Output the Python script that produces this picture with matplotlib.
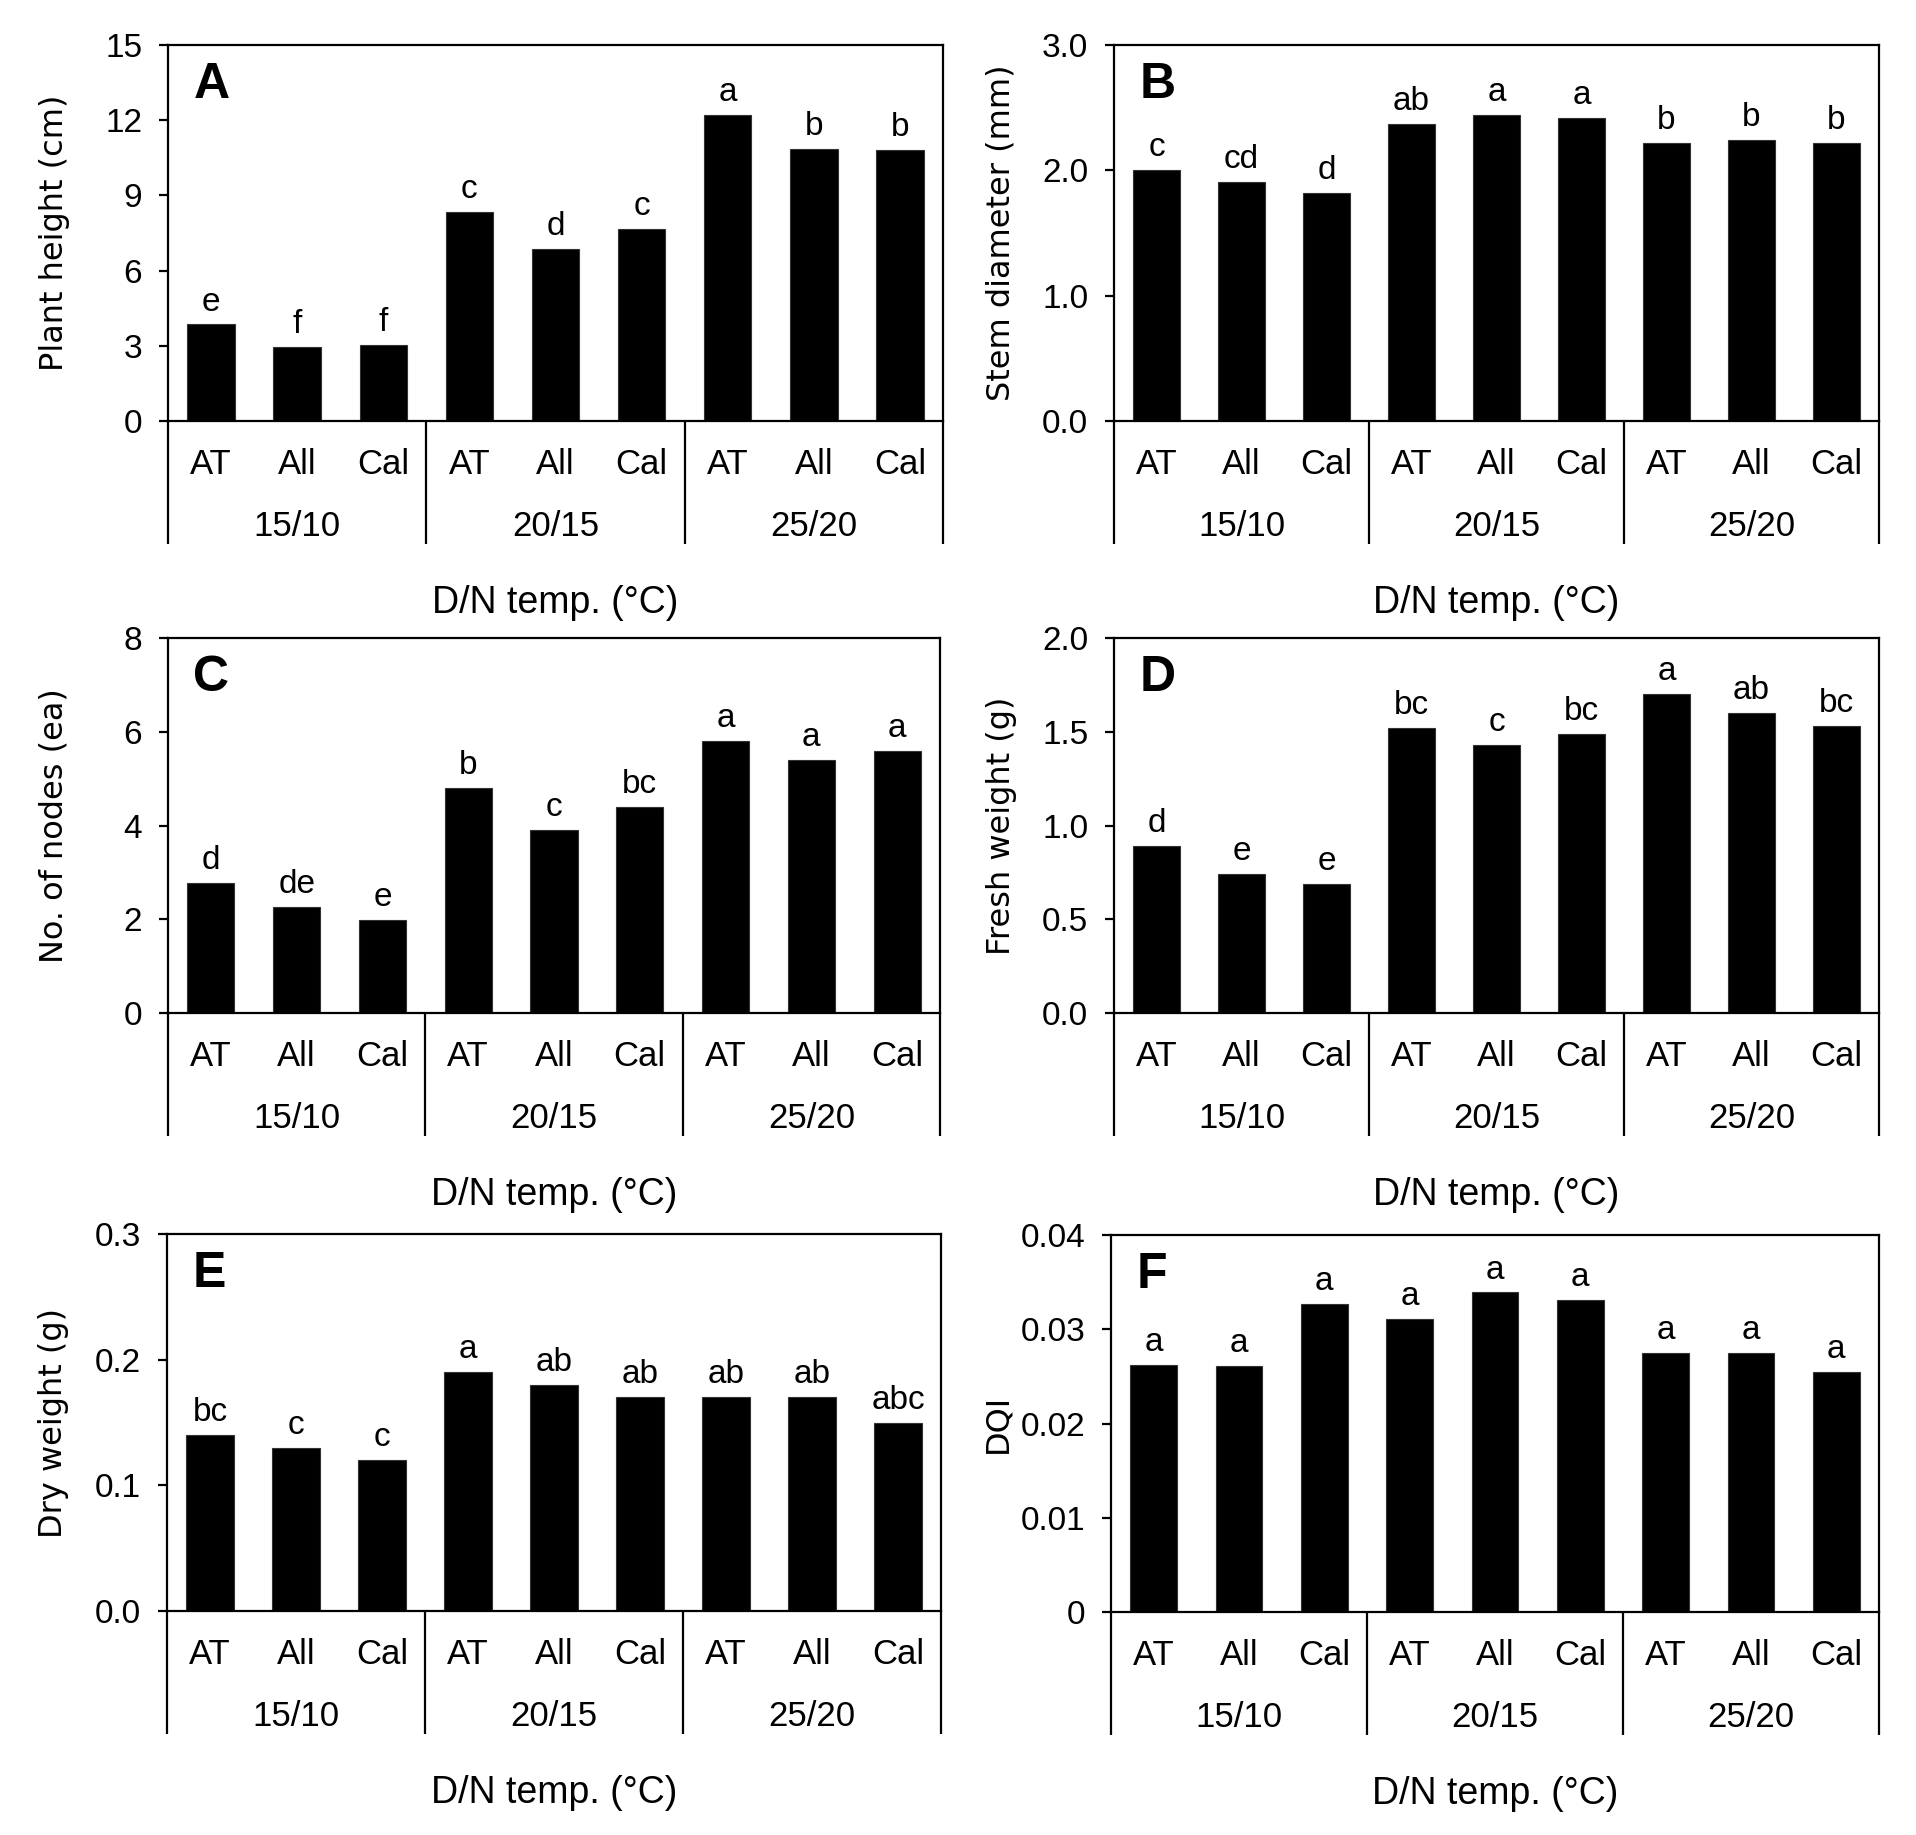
import matplotlib
matplotlib.use("Agg")
import matplotlib.pyplot as plt
import matplotlib.transforms as mtransforms
import numpy as np

categories = ['AT', 'All', 'Cal']
groups = ['15/10', '20/15', '25/20']

height = [3.85, 2.95, 3.05, 8.35, 6.85, 7.65, 12.2, 10.85, 10.8]
height_letters = ['e', 'f', 'f', 'c', 'd', 'c', 'a', 'b', 'b']
stem = [2.0, 1.91, 1.82, 2.37, 2.44, 2.42, 2.22, 2.24, 2.22]
stem_letters = ['c', 'cd', 'd', 'ab', 'a', 'a', 'b', 'b', 'b']
nodes = [2.78, 2.27, 1.98, 4.8, 3.9, 4.4, 5.8, 5.4, 5.6]
nodes_letters = ['d', 'de', 'e', 'b', 'c', 'bc', 'a', 'a', 'a']
fresh = [0.89, 0.74, 0.69, 1.52, 1.43, 1.49, 1.70, 1.60, 1.53]
fresh_letters = ['d', 'e', 'e', 'bc', 'c', 'bc', 'a', 'ab', 'bc']
dry = [0.14, 0.13, 0.12, 0.19, 0.18, 0.17, 0.17, 0.17, 0.15]
dry_letters = ['bc', 'c', 'c', 'a', 'ab', 'ab', 'ab', 'ab', 'abc']
dqi = [0.0262, 0.0261, 0.0327, 0.0311, 0.0339, 0.0331, 0.0275, 0.0275, 0.0255]
dqi_letters = ['a', 'a', 'a', 'a', 'a', 'a', 'a', 'a', 'a']

yticks_A = [0, 3, 6, 9, 12, 15]
yticks_B = [0.0, 1.0, 2.0, 3.0]
yticks_C = [0, 2, 4, 6, 8]
yticks_D = [0.0, 0.5, 1.0, 1.5, 2.0]
yticks_E = [0.0, 0.1, 0.2, 0.3]
yticks_F = [0, 0.01, 0.02, 0.03, 0.04]
ytick_labels_F = ['0', '0.01', '0.02', '0.03', '0.04']

NARROW = ['Liberation Sans', 'DejaVu Sans']
WIDE = ['DejaVu Sans']

W, H = 1916, 1835
fig = plt.figure(figsize=(W / 100, H / 100), dpi=100)

def frac(x0, x1, top, zero):
    return [x0 / W, 1 - zero / H, (x1 - x0) / W, (zero - top) / H]

panels = [
    ('A', height, height_letters, yticks_A, None, 'Plant height (cm)', frac(168, 943, 45, 421), '{:g}'),
    ('B', stem, stem_letters, yticks_B, None, 'Stem diameter (mm)', frac(1114, 1879, 45, 421), '{:.1f}'),
    ('C', nodes, nodes_letters, yticks_C, None, 'No. of nodes (ea)', frac(168, 940, 638, 1013), '{:g}'),
    ('D', fresh, fresh_letters, yticks_D, None, 'Fresh weight (g)', frac(1114, 1879, 638, 1013), '{:.1f}'),
    ('E', dry, dry_letters, yticks_E, None, 'Dry weight (g)', frac(167, 941, 1234, 1611), '{:.1f}'),
    ('F', dqi, dqi_letters, yticks_F, ytick_labels_F, 'DQI', frac(1111, 1879, 1235, 1612), None),
]

lw = 1.6
for name, vals, letters, yt, ytl, ylab, rect, fmt in panels:
    ax = fig.add_axes(rect)
    x = np.arange(len(vals))
    ax.bar(x, vals, width=0.55, color='black', edgecolor='#333333', linewidth=0.8)
    ax.set_xlim(-0.5, len(vals) - 0.5)
    ax.set_ylim(yt[0], yt[-1])
    ax.set_yticks(yt)
    if ytl is None:
        ytl = [fmt.format(v) for v in yt]
    ax.set_yticklabels(ytl, fontsize=24, family=NARROW)
    ax.set_xticks([])
    ax.tick_params(axis='y', direction='out', length=6.5, width=lw, pad=12)
    for s in ax.spines.values():
        s.set_linewidth(lw)
    for i, (v, l) in enumerate(zip(vals, letters)):
        ax.annotate(l, (i, v), xytext=(0, 5), textcoords='offset points',
                    ha='center', va='bottom', fontsize=24, family=NARROW)
    ax.text(0.033, 0.955, name, transform=ax.transAxes, fontsize=36,
            fontweight='bold', family=NARROW, ha='left', va='top')
    trans = mtransforms.blended_transform_factory(ax.transData, ax.transAxes)
    hpx = rect[3] * H
    for i in x:
        ax.text(i, -43 / hpx, categories[i % 3], transform=trans, ha='center', va='center',
                fontsize=25, family=NARROW)
    for g, gname in enumerate(groups):
        ax.text(3 * g + 1, -105 / hpx, gname, transform=trans, ha='center', va='center',
                fontsize=25, family=NARROW)
    for b in [-0.5, 2.5, 5.5, 8.5]:
        ax.plot([b, b], [0, -123 / hpx], transform=trans, color='black', lw=lw,
                clip_on=False, solid_capstyle='butt')
    ax.text(0.5, -182 / hpx, 'D/N temp. (°C)', transform=ax.transAxes, ha='center',
            va='center', fontsize=27, family=NARROW)
    ax.set_ylabel(ylab, fontsize=23, family=WIDE)
    ax.yaxis.set_label_coords(-0.127, 0.5)

fig.savefig('out.png', dpi=100)
